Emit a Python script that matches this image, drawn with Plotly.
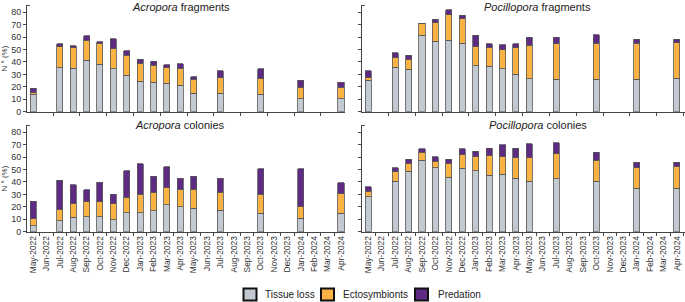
import plotly.graph_objects as go

all_months = ["May-2022", "Jun-2022", "Jul-2022", "Aug-2022", "Sep-2022", "Oct-2022",
              "Nov-2022", "Dec-2022", "Jan-2023", "Feb-2023", "Mar-2023", "Apr-2023",
              "May-2023", "Jun-2023", "Jul-2023", "Aug-2023", "Sep-2023", "Oct-2023",
              "Nov-2023", "Dec-2023", "Jan-2024", "Feb-2024", "Mar-2024", "Apr-2024"]
sampled = ["May-2022", "Jul-2022", "Aug-2022", "Sep-2022", "Oct-2022", "Nov-2022",
           "Dec-2022", "Jan-2023", "Feb-2023", "Mar-2023", "Apr-2023", "May-2023",
           "Jul-2023", "Oct-2023", "Jan-2024", "Apr-2024"]

# Acropora fragments
af_tissue = [13.9, 35.4, 34.9, 41.3, 38.1, 34.6, 29.5, 24.7, 23.9, 22.8, 21.2, 15.0, 14.8, 14.0, 10.5, 10.5]
af_ecto   = [1.4, 16.9, 16.6, 16.4, 16.9, 16.1, 16.1, 14.2, 13.4, 12.6, 13.7, 11.0, 12.6, 12.8, 9.1, 9.1]
af_pred   = [3.5, 2.2, 1.4, 3.5, 1.1, 8.1, 3.5, 3.5, 3.5, 2.2, 3.5, 2.0, 5.4, 7.6, 5.9, 4.3]
# Pocillopora fragments
pf_tissue = [25.5, 35.7, 34.1, 61.7, 56.6, 57.7, 55.0, 36.8, 36.5, 34.6, 30.1, 26.6, 26.0, 26.0, 26.0, 26.8]
pf_ecto   = [1.9, 7.8, 8.3, 8.9, 15.1, 20.2, 19.9, 15.5, 15.0, 15.3, 21.4, 26.8, 28.8, 29.0, 29.0, 28.8]
pf_pred   = [5.4, 4.0, 3.2, 0.5, 2.9, 4.0, 2.7, 9.4, 3.3, 3.8, 3.3, 6.7, 5.3, 7.0, 3.5, 2.9]
# Acropora colonies
ac_tissue = [4.6, 8.9, 11.5, 12.1, 12.1, 9.7, 15.3, 15.3, 16.9, 21.7, 20.1, 18.8, 17.2, 15.0, 11.0, 15.0]
ac_ecto   = [5.9, 9.1, 11.3, 12.1, 12.1, 12.9, 12.6, 14.8, 15.0, 13.7, 14.0, 15.3, 14.7, 15.1, 8.9, 15.6]
ac_pred   = [14.2, 23.6, 14.8, 9.6, 15.5, 7.7, 21.0, 24.4, 12.9, 16.9, 9.1, 10.7, 11.1, 20.4, 30.6, 8.9]
# Pocillopora colonies
pc_tissue = [28.2, 40.5, 48.6, 57.7, 51.5, 43.8, 51.0, 49.1, 45.4, 46.4, 43.0, 40.8, 42.7, 40.8, 34.9, 34.9]
pc_ecto   = [4.3, 7.6, 6.4, 6.2, 5.4, 11.2, 11.0, 11.3, 15.8, 14.0, 16.6, 18.8, 19.9, 16.9, 16.4, 17.2]
pc_pred   = [3.7, 3.4, 3.3, 2.9, 3.5, 3.3, 4.8, 4.3, 5.9, 9.6, 7.5, 11.0, 8.8, 6.2, 4.5, 3.7]

series_names = ["Tissue loss", "Ectosymbionts", "Predation"]
colors = ["#c3c9d1", "#fbb244", "#5e2a84"]
panel_titles = ["<i>Acropora</i> fragments", "<i>Pocillopora</i> fragments",
                "<i>Acropora</i> colonies", "<i>Pocillopora</i> colonies"]
y_title = "N ° (%)"

panels = [
    ("x", "y", [af_tissue, af_ecto, af_pred]),
    ("x2", "y2", [pf_tissue, pf_ecto, pf_pred]),
    ("x3", "y3", [ac_tissue, ac_ecto, ac_pred]),
    ("x4", "y4", [pc_tissue, pc_ecto, pc_pred]),
]

FONT = "Liberation Sans, Arial, sans-serif"

fig = go.Figure()
for xa, ya, vals in panels:
    for name, col, v in zip(series_names, colors, vals):
        fig.add_trace(go.Bar(
            x=sampled, y=v, name=name, xaxis=xa, yaxis=ya,
            marker=dict(color=col, line=dict(color="#555555", width=0.8)),
            width=0.45, showlegend=False, hoverinfo="x+y+name"))

W, H = 685, 302
def px_x(p): return p / W
def px_y(p): return 1 - p / H

ymax = 85.5
top_dom = [px_y(111.7), px_y(111.7 - ymax * 1.2425)]
bot_dom = [px_y(231.7), px_y(231.7 - ymax * 1.2425)]
left_dom = [px_x(27), px_x(345)]
right_dom = [px_x(362), px_x(685)]

def xaxis(dom, anchor, labels, rng):
    return dict(domain=dom, anchor=anchor, type="category",
                categoryorder="array", categoryarray=all_months,
                range=rng, tickson="boundaries", ticks="outside", ticklen=3,
                tickcolor="#444", showline=True, linecolor="#444", linewidth=1,
                showgrid=False, zeroline=False, showticklabels=labels,
                tickangle=-90, tickfont=dict(family=FONT, size=8.4, color="#333"),
                automargin=False, fixedrange=True)

def yaxis(dom, anchor, labels):
    return dict(domain=dom, anchor=anchor, range=[0, ymax], tickvals=list(range(0, 81, 10)),
                ticks="outside", ticklen=3, tickcolor="#444", showline=True,
                linecolor="#444", linewidth=1, showgrid=False, zeroline=False,
                showticklabels=labels, tickfont=dict(family=FONT, size=9, color="#333"),
                title=dict(text=y_title if labels else "", standoff=4,
                           font=dict(family=FONT, size=8, color="#333")),
                automargin=False, fixedrange=True)

lrng = [-0.45, 23.3]
rrng = [-0.47, 23.6]

fig.update_layout(
    width=W, height=H, margin=dict(l=0, r=0, t=0, b=0),
    paper_bgcolor="white", plot_bgcolor="white",
    barmode="stack", showlegend=False,
    xaxis=xaxis(left_dom, "y", False, lrng),
    yaxis=yaxis(top_dom, "x", True),
    xaxis2=xaxis(right_dom, "y2", False, rrng),
    yaxis2=yaxis(top_dom, "x2", False),
    xaxis3=xaxis(left_dom, "y3", True, lrng),
    yaxis3=yaxis(bot_dom, "x3", True),
    xaxis4=xaxis(right_dom, "y4", True, rrng),
    yaxis4=yaxis(bot_dom, "x4", False),
    font=dict(family=FONT, color="#333"),
)

# small hook at top of each y axis
for ya, xa in [("y", "x"), ("y2", "x2"), ("y3", "x3"), ("y4", "x4")]:
    fig.add_shape(type="line", xref=f"{xa} domain", yref=f"{ya} domain",
                  x0=0, x1=0.009, y0=1, y1=1, line=dict(color="#444", width=1))

title_pos = [(181, 7), (537, 7), (180, 125), (538, 125)]
for txt, (x, y) in zip(panel_titles, title_pos):
    fig.add_annotation(text=txt, x=px_x(x), y=px_y(y), xref="paper", yref="paper",
                       xanchor="center", yanchor="middle", showarrow=False,
                       font=dict(family=FONT, size=11, color="#222"))

# legend drawn as boxes + text
leg_box_x = [243.5, 321, 415]
leg_txt_x = [263, 341, 436]
for name, col, bx, tx in zip(series_names, colors, leg_box_x, leg_txt_x):
    fig.add_shape(type="rect", xref="paper", yref="paper",
                  x0=px_x(bx), x1=px_x(bx + 13), y0=px_y(288.5), y1=px_y(300.5),
                  fillcolor=col, line=dict(color="#111111", width=2))
    fig.add_annotation(text=name, x=px_x(tx), y=px_y(294.5), xref="paper", yref="paper",
                       xanchor="left", yanchor="middle", showarrow=False,
                       font=dict(family=FONT, size=10, color="#222"))

fig.write_html("out.html", config={"displayModeBar": False},
               post_script="document.body.style.margin='0px';"
                           "document.body.style.overflow='hidden';")
